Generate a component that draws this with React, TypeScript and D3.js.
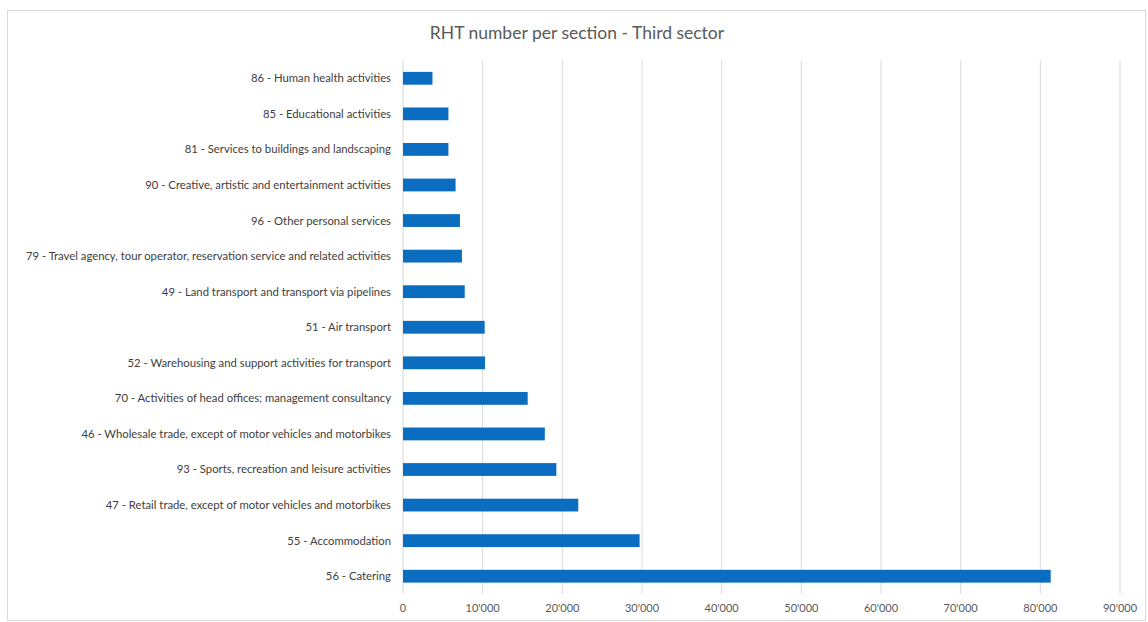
import React, { useEffect, useRef } from "react";
import * as d3 from "d3";

const categories = [
  "86 - Human health activities",
  "85 - Educational activities",
  "81 - Services to buildings and landscaping",
  "90 - Creative, artistic and entertainment activities",
  "96 - Other personal services",
  "79 - Travel agency, tour operator, reservation service and related activities",
  "49 - Land transport and transport via pipelines",
  "51 - Air transport",
  "52 - Warehousing and support activities for transport",
  "70 - Activities of head offices; management consultancy",
  "46 - Wholesale trade, except of motor vehicles and motorbikes",
  "93 - Sports, recreation and leisure activities",
  "47 - Retail trade, except of motor vehicles and motorbikes",
  "55 - Accommodation",
  "56 - Catering",
];
const values = [3700, 5700, 5700, 6600, 7150, 7400, 7750, 10250, 10300, 15650, 17800, 19250, 22000, 29700, 81300];
const xTicks = [0, 10000, 20000, 30000, 40000, 50000, 60000, 70000, 80000, 90000];
const title = "RHT number per section - Third sector";

const W = 1148;
const H = 622;
const FONT = "Lato, 'Open Sans', sans-serif";

export default function App() {
  const ref = useRef<SVGSVGElement>(null);
  useEffect(() => {
    const svg = d3.select(ref.current);
    svg.selectAll("*").remove();
    const left = 403, right = 1120, top = 60.5, bottom = 594;
    const x = d3.scaleLinear().domain([0, 90000]).range([left, right]);
    const y = d3.scaleBand().domain(categories).range([top, bottom]).paddingInner(0.64).paddingOuter(0.32);

    svg.append("rect").attr("x", 7.5).attr("y", 10.5).attr("width", 1138).attr("height", 610)
      .attr("fill", "#fff").attr("stroke", "#d9d9d9");

    svg.append("text").attr("x", 577).attr("y", 39).attr("text-anchor", "middle")
      .attr("font-family", FONT).attr("font-size", 17.5).attr("fill", "#595959").text(title);

    const fmt = (v: number) => d3.format(",")(v).replace(/,/g, "'");

    svg.append("g").selectAll("line").data(xTicks).join("line")
      .attr("x1", d => x(d)).attr("x2", d => x(d)).attr("y1", top).attr("y2", bottom)
      .attr("stroke", "#d9d9d9").attr("stroke-width", 1);

    svg.append("g").selectAll("text").data(xTicks).join("text")
      .attr("x", d => x(d)).attr("y", 612).attr("text-anchor", "middle")
      .attr("font-family", FONT).attr("font-size", 11).attr("fill", "#595959")
      .text(d => fmt(d));

    svg.append("g").selectAll("rect").data(values).join("rect")
      .attr("x", x(0)).attr("y", (d, i) => y(categories[i])!)
      .attr("width", d => x(d) - x(0)).attr("height", y.bandwidth())
      .attr("fill", "#0b6dc0");

    svg.append("g").selectAll("text").data(categories).join("text")
      .attr("x", 391).attr("y", d => y(d)! + y.bandwidth() / 2).attr("dy", "0.35em")
      .attr("text-anchor", "end").attr("font-family", FONT).attr("font-size", 11.3)
      .attr("fill", "#404040").text(d => d);
  }, []);
  return (
    <svg ref={ref} width={W} height={H} style={{ position: "absolute", left: 0, top: 0 }} />
  );
}
